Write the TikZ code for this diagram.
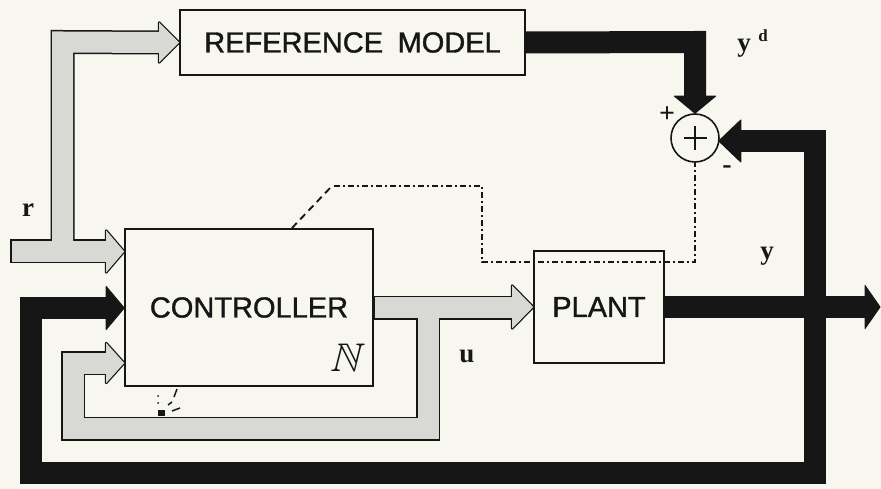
\documentclass[tikz,border=0pt]{standalone}
\usepackage{amssymb}
\usepackage{fontspec}
\setmainfont{Liberation Serif}
\newfontfamily\boxfont[FakeBold=1.2]{Liberation Sans}
\usetikzlibrary{calc}
\definecolor{bg}{RGB}{247,247,240}
\definecolor{lgray}{RGB}{216,216,212}
\definecolor{ink}{RGB}{22,22,22}
\begin{document}
\begin{tikzpicture}[x=1pt,y=-1pt,
  blockbox/.style={draw=ink, line width=1.6pt, inner sep=0pt, font=\boxfont\fontsize{29}{31}\selectfont, text=ink},
  outl/.style={draw=ink, line width=24pt, line join=miter},
  grayband/.style={draw=lgray, line width=21pt, line join=miter},
  blackband/.style={draw=ink, line width=22pt, line join=miter},
  headout/.style={fill=ink, draw=ink, line width=2.5pt, line join=round},
  headgray/.style={fill=lgray},
  headblack/.style={fill=ink, draw=ink, line width=1pt, line join=round},
  lab/.style={font=\bfseries\fontsize{27}{28}\selectfont, text=ink, inner sep=0pt, anchor=base},
  sgn/.style={font=\bfseries\fontsize{28}{28}\selectfont, text=ink, inner sep=0pt},
  dashdotline/.style={draw=ink, line width=2pt, dash pattern=on 6pt off 3pt on 2pt off 3pt},
  dashline/.style={draw=ink, line width=1.9pt, dash pattern=on 7pt off 5pt}]
\fill[bg] (0,0) rectangle (881,489);
\useasboundingbox (0,0) rectangle (881,489);

% blocks
\node[blockbox, minimum width=345pt, minimum height=65pt] (ref) at (352.5,42.5) {REFERENCE\hspace{0.5em}MODEL};
\node[blockbox, minimum width=248pt, minimum height=157pt] (ctrl) at (249,307.5) {CONTROLLER};
\node[blockbox, minimum width=130pt, minimum height=112pt] (plant) at (599,307) {PLANT};
\node[circle, draw=ink, line width=1.6pt, minimum size=48pt, inner sep=0pt] (sum) at (695,138) {};
\draw[ink, line width=1.7pt] ($(sum.center)+(-11.5,0)$) -- ($(sum.center)+(11.5,0)$)
  ($(sum.center)+(0,-12)$) -- ($(sum.center)+(0,12)$);
\node[text=ink, inner sep=0pt, xslant=0.25, font=\fontsize{40}{40}\selectfont] (nn) at (348,358) {$\mathbb{N}$};

% coordinates
\coordinate (rtail) at (10,251.5);
\coordinate (rbend) at (62.5,251.5);
\coordinate (rtop) at (62.5,42);
\coordinate (rin) at ($(ctrl.west)+(0,-56)$);
\coordinate (uT) at (428,307.5);
\coordinate (uB) at (428,428.5);
\coordinate (uL) at (73,428.5);
\coordinate (uU) at (73,363);
\coordinate (uin) at ($(ctrl.west)+(0,55.5)$);
\coordinate (fbA) at (31,308);
\coordinate (fbB) at (31,472.5);
\coordinate (fbC) at (814.5,472.5);
\coordinate (fbD) at (814.5,141);
\coordinate (fbin) at (718.8,141);
\coordinate (ydA) at (695,42);
\coordinate (yout) at (880,307);
\coordinate (dA) at (292,228);
\coordinate (dB) at (331,187);
\coordinate (dC) at (482,186);
\coordinate (dD) at (482,262);
\coordinate (dE) at (695,262);

% ---- gray arrows: outline layer
\draw[outl] (rtail) -- ($(rin)+(-17,0)$);
\draw[outl] (rbend) -- (rtop) -- ($(ref.west)+(-19,0)$);
\draw[outl] (ctrl.east) -- ($(plant.west)+(-20,0.5)$);
\draw[outl] (uT) -- (uB) -- (uL) -- (uU) -- ($(uin)+(-17,0)$);
\draw[headout] ($(ref.west)+(-20,-20)$) -- (ref.west) -- ($(ref.west)+(-20,20)$) -- cycle;
\draw[headout] ($(rin)+(-18,-21)$) -- (rin) -- ($(rin)+(-18,21)$) -- cycle;
\draw[headout] ($(plant.west)+(-21,-21.5)$) -- (plant.west) -- ($(plant.west)+(-21,21.5)$) -- cycle;
\draw[headout] ($(uin)+(-18,-20)$) -- (uin) -- ($(uin)+(-18,20)$) -- cycle;
% ---- gray arrows: fill layer
\draw[grayband, shorten <=1.5pt] (rtail) -- ($(rin)+(-17,0)$);
\draw[grayband] (rbend) -- (rtop) -- ($(ref.west)+(-19,0)$);
\draw[grayband, shorten <=0.8pt] (ctrl.east) -- ($(plant.west)+(-20,0.5)$);
\draw[grayband] (uT) -- (uB) -- (uL) -- (uU) -- ($(uin)+(-17,0)$);
\fill[headgray] ($(ref.west)+(-20,-20)$) -- (ref.west) -- ($(ref.west)+(-20,20)$) -- cycle;
\fill[headgray] ($(rin)+(-18,-21)$) -- (rin) -- ($(rin)+(-18,21)$) -- cycle;
\fill[headgray] ($(plant.west)+(-21,-21.5)$) -- (plant.west) -- ($(plant.west)+(-21,21.5)$) -- cycle;
\fill[headgray] ($(uin)+(-18,-20)$) -- (uin) -- ($(uin)+(-18,20)$) -- cycle;

% ---- black arrows
\draw[blackband] ($(ctrl.west)+(-17,0.5)$) -- (fbA) -- (fbB) -- (fbC) -- (fbD) -- ($(fbin)+(21,0)$);
\draw[headblack] ($(ctrl.west)+(-18,-21)$) -- ($(ctrl.west)+(0,0.5)$) -- ($(ctrl.west)+(-18,22)$) -- cycle;
\draw[headblack] ($(fbin)+(22,-21)$) -- (fbin) -- ($(fbin)+(22,21)$) -- cycle;
\draw[blackband] (ref.east) -- (ydA) -- ($(sum.north)+(0,-16)$);
\draw[headblack] ($(sum.north)+(-20.5,-17)$) -- (sum.north) -- ($(sum.north)+(20.5,-17)$) -- cycle;
\draw[blackband] (plant.east) -- ($(yout)+(-14,0)$);
\draw[headblack] ($(yout)+(-15,-21.5)$) -- (yout) -- ($(yout)+(-15,21.5)$) -- cycle;

% ---- dash-dot signal line
\draw[dashline] (dA) -- (dB);
\draw[dashdotline] ($(dB)+(3,-1)$) -- (dC) -- (dD) -- (dE) -- (sum.south);
% broken fragment under controller
\draw[ink, line width=1.5pt] (177,389) -- (174,397);
\fill[ink] (158,396) circle (1pt) (158,403) circle (1pt);
\draw[ink, line width=1.5pt] (168,405) -- (172,402);
\draw[ink, line width=1.5pt] (172,411) -- (180,408);
\fill[ink] (158,410) rectangle (165,416);

% ---- labels
\node[lab] (rl) at (28,217) {r};
\node[lab] (ul) at (467,362) {u};
\node[lab] (yl) at (767,259) {y};
\node[lab] (ydl) at (744,52) {y};
\node[lab, font=\bfseries\fontsize{17}{17}\selectfont] (ydd) at (763,42) {d};
\node[sgn] (plus) at (667,115) {+};
\node[sgn] (minus) at (727,170) {-};
\end{tikzpicture}
\end{document}
